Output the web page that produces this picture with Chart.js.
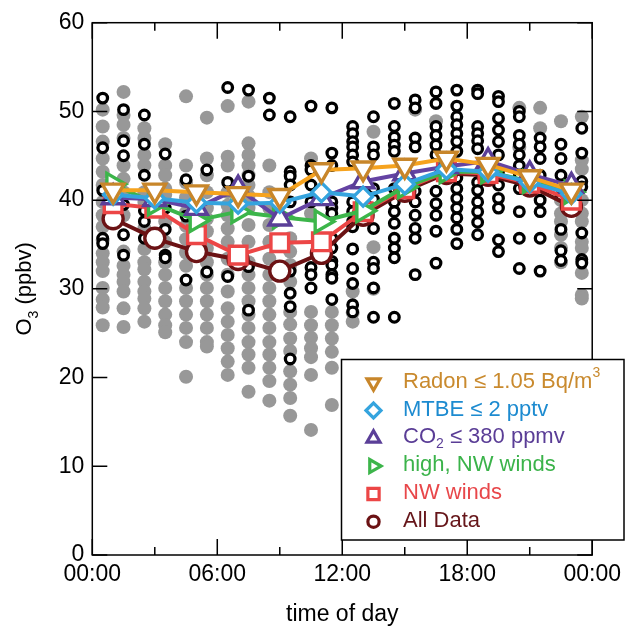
<!DOCTYPE html>
<html>
<head>
<meta charset="utf-8">
<script src="https://cdn.jsdelivr.net/npm/chart.js@4.4.1/dist/chart.umd.min.js"></script>
<style>
  html, body { margin: 0; padding: 0; background: #fff; }
  #chart { display: block; }
</style>
</head>
<body>
<canvas id="chart" width="627" height="627"></canvas>
<script>
// centres of the 2-hour bins used for the averaged curves
const binHours = [1, 3, 5, 7, 9, 11, 13, 15, 17, 19, 21, 23];

// mean O3 (ppbv) per bin, one array per filter
const radonO3  = [41.1, 41.1, 40.9, 40.7, 40.5, 43.4, 43.6, 43.9, 44.7, 44.0, 42.6, 41.1];
const mtbeO3   = [40.6, 40.2, 39.7, 39.6, 39.7, 40.9, 40.4, 41.8, 43.5, 43.2, 42.0, 40.7];
const co2O3    = [40.3, 40.1, 39.1, 41.3, 37.9, 40.2, 42.1, 43.0, 43.8, 44.4, 42.9, 41.6];
const highNwO3 = [41.8, 39.6, 37.7, 38.7, 38.1, 37.6, 38.8, 41.5, 43.2, 43.2, 42.1, 40.9];
const nwO3     = [39.6, 39.1, 36.1, 33.8, 35.2, 35.3, 38.7, 41.3, 43.2, 43.0, 41.9, 40.0];
const allO3    = [37.9, 35.7, 34.2, 33.3, 32.0, 34.0, 38.3, 41.0, 43.0, 42.8, 41.6, 39.3];

// hourly individual measurements
const scatterHours = [0.5, 1.5, 2.5, 3.5, 4.5, 5.5, 6.5, 7.5, 8.5, 9.5, 10.5, 11.5,
                      12.5, 13.5, 14.5, 15.5, 16.5, 17.5, 18.5, 19.5, 20.5, 21.5, 22.5, 23.5];

// gray filled points
const grayO3 = [
  [50.2, 48.3, 46.6, 44.7, 43.2, 41.7, 39.8, 38.3, 37.0, 35.5, 34.0, 33.0, 32.0, 30.1, 28.8, 27.9, 25.9],
  [52.2, 49.6, 48.5, 47.0, 43.9, 42.4, 40.9, 38.3, 34.2, 32.6, 31.6, 30.8, 29.7, 27.8, 25.7],
  [48.1, 47.0, 45.1, 43.9, 40.9, 39.8, 36.8, 34.5, 33.0, 32.2, 30.8, 29.7, 28.9, 27.8, 26.3],
  [46.3, 43.9, 42.8, 41.3, 40.6, 37.6, 35.3, 33.0, 31.6, 30.1, 28.6, 27.1, 25.9, 25.1],
  [51.7, 43.9, 42.0, 40.3, 38.6, 37.1, 35.6, 34.1, 32.6, 30.1, 28.6, 27.1, 25.6, 24.0, 20.1],
  [49.3, 44.7, 42.8, 40.9, 39.1, 37.9, 36.5, 34.6, 33.0, 31.6, 30.1, 28.6, 27.1, 25.6, 24.0, 23.5],
  [50.6, 44.9, 43.9, 40.9, 39.4, 38.3, 36.8, 35.3, 33.4, 31.6, 29.7, 27.8, 26.3, 24.8, 23.3, 21.8, 20.3],
  [51.1, 46.4, 45.1, 43.9, 42.8, 41.7, 40.5, 39.1, 37.2, 35.3, 33.0, 31.6, 30.1, 28.6, 27.1, 25.6, 24.0, 22.6, 21.1, 18.4],
  [43.9, 40.9, 39.1, 37.2, 35.3, 33.4, 31.6, 30.1, 28.6, 27.1, 25.6, 24.0, 22.6, 21.1, 19.6, 17.4],
  [35.7, 34.2, 32.7, 30.8, 27.4, 26.0, 24.4, 23.0, 20.7, 19.2, 17.7, 15.7],
  [44.7, 38.5, 27.4, 25.9, 24.5, 23.3, 22.3, 20.3, 14.1],
  [27.4, 25.9, 24.4, 22.9, 21.1, 16.9],
  [29.7, 27.3, 26.3],
  [47.7, 34.7, 30.0],
  [],
  [50.2],
  [48.9],
  [],
  [],
  [],
  [50.4, 46.0],
  [50.4, 48.1],
  [48.9, 40.0, 38.5, 37.6, 36.1, 34.6, 33.0],
  [49.4, 44.5, 43.5, 40.0, 38.5, 37.6, 35.3, 34.6, 31.8, 29.3, 28.9]
];

// black open circles
const blackO3 = [
  [51.5, 45.9, 41.1, 35.7, 35.1],
  [50.2, 46.7, 45.0, 39.5, 36.1, 33.8],
  [49.6, 46.3, 42.8, 38.8, 37.6, 35.7],
  [45.2, 39.1, 36.7, 33.8, 33.5],
  [42.3, 38.2, 31.0],
  [43.4, 31.9],
  [52.7, 42.0, 31.4],
  [52.4, 42.7, 32.5, 27.6],
  [51.5, 49.6],
  [49.4, 43.2, 42.7, 41.7, 39.8, 32.0, 29.5, 28.0, 22.1],
  [50.6, 43.9, 43.4, 41.7, 39.8, 32.4, 31.6, 30.1],
  [50.4, 45.3, 43.9, 39.8, 39.1, 38.5, 35.7, 34.6, 33.1, 32.7, 31.6, 31.2, 28.8],
  [48.3, 47.5, 46.6, 46.0, 45.1, 44.3, 39.8, 38.7, 37.6, 37.0, 34.5, 32.3, 30.6, 28.2, 27.4],
  [49.4, 46.0, 45.1, 41.3, 40.1, 36.8, 33.0, 32.3, 30.1, 26.8],
  [50.9, 48.3, 47.1, 46.2, 45.5, 41.3, 39.8, 38.7, 37.4, 35.7, 34.6, 33.5, 26.8],
  [51.3, 50.4, 47.0, 46.0, 41.0, 39.8, 38.3, 36.8, 35.7, 31.6],
  [52.2, 50.9, 48.3, 47.3, 46.2, 45.1, 41.0, 39.6, 38.3, 36.5, 32.9],
  [52.4, 50.6, 49.4, 48.5, 47.5, 46.6, 45.5, 42.5, 41.3, 40.2, 39.1, 38.0, 36.7, 35.1],
  [52.4, 52.0, 48.3, 47.5, 46.7, 45.8, 42.0, 41.1, 39.8, 38.7, 37.5, 36.1],
  [51.7, 51.1, 49.2, 47.9, 46.6, 45.1, 43.2, 41.7, 40.2, 39.1, 35.5, 34.2],
  [50.0, 49.4, 47.3, 46.3, 45.1, 43.9, 42.8, 41.3, 38.7, 35.7, 32.3],
  [47.0, 46.0, 44.7, 42.8, 40.0, 38.7, 35.7, 32.0],
  [46.3, 44.7, 42.8, 40.5, 36.7, 34.3, 33.2],
  [48.1, 45.3, 42.1, 41.5, 36.3, 33.3, 32.9]
];

// axis ticks
const xTickHours = [0, 6, 12, 18, 24];
const xTickLabels = ['00:00', '06:00', '12:00', '18:00', '00:00'];
const xMinorHours = [3, 9, 15, 21];
const yTickValues = [0, 10, 20, 30, 40, 50, 60];

const FONT = '"Liberation Sans", Arial, Helvetica, sans-serif';

function toPoints(xs, ys) {
  return ys.map((v, i) => ({ x: xs[i], y: v }));
}

function toScatter(cols) {
  const pts = [];
  cols.forEach((col, i) => col.forEach(v => pts.push({ x: scatterHours[i], y: v })));
  return pts;
}

function lineSet(label, values, lineColor, markColor, style, radius, rotation, order) {
  return {
    label: label,
    data: toPoints(binHours, values),
    borderColor: lineColor,
    borderWidth: 4,
    pointStyle: style,
    pointRadius: radius,
    pointRotation: rotation,
    pointBackgroundColor: '#fff',
    pointBorderColor: markColor,
    pointBorderWidth: 3.4,
    tension: 0,
    order: order
  };
}

// legend rows: text parts ([text, '' | 'sup' | 'sub']), colour, marker
const legendRows = [
  { parts: [['Radon \u2264 1.05 Bq/m', ''], ['3', 'sup']], color: '#c98a2e', style: 'triangle', rot: 180, mark: '#c8862a' },
  { parts: [['MTBE \u2264 2 pptv', '']], color: '#1d8bd0', style: 'diamond', rot: 0, mark: '#35a4de' },
  { parts: [['CO', ''], ['2', 'sub'], [' \u2264 380 ppmv', '']], color: '#5a3d96', style: 'triangle', rot: 0, mark: '#5b3f98' },
  { parts: [['high, NW winds', '']], color: '#3bb34a', style: 'triangle', rot: 90, mark: '#3cb54a' },
  { parts: [['NW winds', '']], color: '#e8474a', style: 'square', rot: 0, mark: '#ec4646' },
  { parts: [['All Data', '']], color: '#66161a', style: 'circle', rot: 0, mark: '#6b1214' }
];

function drawRich(ctx, parts, x, y, size) {
  parts.forEach(([t, mode]) => {
    const s = mode ? Math.round(size * 0.65) : size;
    ctx.font = s + 'px ' + FONT;
    const dy = mode === 'sub' ? size * 0.3 : (mode === 'sup' ? -size * 0.38 : 0);
    ctx.fillText(t, x, y + dy);
    x += ctx.measureText(t).width;
  });
  return x;
}

function richWidth(ctx, parts, size) {
  let w = 0;
  parts.forEach(([t, mode]) => {
    const s = mode ? Math.round(size * 0.65) : size;
    ctx.font = s + 'px ' + FONT;
    w += ctx.measureText(t).width;
  });
  return w;
}

function drawMarker(ctx, style, rot, x, y, r) {
  ctx.save();
  ctx.translate(x, y);
  ctx.rotate(rot * Math.PI / 180);
  ctx.beginPath();
  if (style === 'triangle') {
    for (let k = 0; k < 3; k++) {
      const a = k * 2 * Math.PI / 3;
      const px = Math.sin(a) * r, py = -Math.cos(a) * r;
      if (k === 0) ctx.moveTo(px, py); else ctx.lineTo(px, py);
    }
    ctx.closePath();
  } else if (style === 'diamond') {
    ctx.moveTo(-r, 0); ctx.lineTo(0, -r); ctx.lineTo(r, 0); ctx.lineTo(0, r); ctx.closePath();
  } else if (style === 'square') {
    const s = r * 0.75;
    ctx.rect(-s, -s, 2 * s, 2 * s);
  } else {
    ctx.arc(0, 0, r * 0.75, 0, Math.PI * 2);
  }
  ctx.fill();
  ctx.stroke();
  ctx.restore();
}

// frame with inward ticks on all four sides, then legend and axis titles
const decorPlugin = {
  id: 'decor',
  afterDatasetsDraw(chart) {
    const { ctx, chartArea: a, scales } = chart;
    const x = scales.x, y = scales.y;
    ctx.save();
    ctx.strokeStyle = '#000';
    ctx.lineWidth = 1.5;
    ctx.strokeRect(a.left, a.top, a.right - a.left, a.bottom - a.top);
    ctx.beginPath();
    xTickHours.forEach(h => {
      const px = x.getPixelForValue(h);
      ctx.moveTo(px, a.bottom); ctx.lineTo(px, a.bottom - 16);
      ctx.moveTo(px, a.top); ctx.lineTo(px, a.top + 16);
    });
    xMinorHours.forEach(h => {
      const px = x.getPixelForValue(h);
      ctx.moveTo(px, a.bottom); ctx.lineTo(px, a.bottom - 8);
      ctx.moveTo(px, a.top); ctx.lineTo(px, a.top + 8);
    });
    yTickValues.forEach(v => {
      const py = y.getPixelForValue(v);
      ctx.moveTo(a.left, py); ctx.lineTo(a.left + 15, py);
      ctx.moveTo(a.right, py); ctx.lineTo(a.right - 15, py);
    });
    ctx.stroke();
    ctx.restore();
  },
  afterDraw(chart) {
    const { ctx, chartArea: a } = chart;
    ctx.save();

    // legend box
    const bx = 341.5, by = 359.5, bw = 282.5, bh = 180.5;
    ctx.fillStyle = '#fff';
    ctx.fillRect(bx, by, bw, bh);
    ctx.strokeStyle = '#000';
    ctx.lineWidth = 1.5;
    ctx.strokeRect(bx, by, bw, bh);
    ctx.textBaseline = 'middle';
    ctx.textAlign = 'left';
    legendRows.forEach((row, i) => {
      const ry = 381.7 + i * 27.8;
      ctx.fillStyle = '#fff';
      ctx.strokeStyle = row.mark;
      ctx.lineWidth = 3.2;
      drawMarker(ctx, row.style, row.rot, 373.5, ry + 1, 7.5);
      ctx.fillStyle = row.color;
      drawRich(ctx, row.parts, 403, ry, 22);
    });

    // x title
    ctx.fillStyle = '#000';
    ctx.textBaseline = 'alphabetic';
    ctx.textAlign = 'left';
    ctx.font = '23px ' + FONT;
    const xt = 'time of day';
    ctx.fillText(xt, (a.left + a.right) / 2 - ctx.measureText(xt).width / 2, 621);

    // y title, rotated
    const yParts = [['O', ''], ['3', 'sub'], [' (ppbv)', '']];
    const w = richWidth(ctx, yParts, 22);
    ctx.translate(31, (a.top + a.bottom) / 2);
    ctx.rotate(-Math.PI / 2);
    ctx.textBaseline = 'alphabetic';
    drawRich(ctx, yParts, -w / 2, 0, 22);
    ctx.restore();
  }
};

const datasets = [
  lineSet('Radon', radonO3, '#f6a31e', '#c8862a', 'triangle', 12.5, 180, 0),
  lineSet('MTBE', mtbeO3, '#35a4de', '#35a4de', 'rectRot', 9.5, 0, 1),
  lineSet('CO2', co2O3, '#6443a3', '#5b3f98', 'triangle', 12.5, 0, 2),
  lineSet('high, NW winds', highNwO3, '#3cb54a', '#3cb54a', 'triangle', 12.5, 90, 3),
  lineSet('NW winds', nwO3, '#ec4646', '#ec4646', 'rect', 12.5, 0, 4),
  lineSet('All Data', allO3, '#6b1214', '#6b1214', 'circle', 10, 0, 5),
  {
    label: 'hourly',
    data: toScatter(blackO3),
    showLine: false,
    pointStyle: 'circle',
    pointRadius: 4.8,
    pointBackgroundColor: '#fff',
    pointBorderColor: '#000',
    pointBorderWidth: 3.3,
    order: 6
  },
  {
    label: 'hourly gray',
    data: toScatter(grayO3),
    showLine: false,
    pointStyle: 'circle',
    pointRadius: 7,
    pointBackgroundColor: '#989898',
    pointBorderWidth: 0,
    order: 7
  }
];

new Chart(document.getElementById('chart'), {
  type: 'line',
  data: { datasets: datasets },
  options: {
    responsive: false,
    animation: false,
    events: [],
    devicePixelRatio: 1,
    layout: { padding: { left: 0, top: 22.7, right: 33, bottom: 0 } },
    plugins: {
      legend: { display: false },
      tooltip: { enabled: false }
    },
    scales: {
      x: {
        type: 'linear',
        min: 0,
        max: 24,
        afterFit: s => { s.height = 72; },
        afterBuildTicks: s => { s.ticks = xTickHours.map(v => ({ value: v })); },
        grid: { display: false, drawTicks: false },
        border: { display: false },
        ticks: {
          padding: 6,
          maxRotation: 0,
          autoSkip: false,
          color: '#000',
          font: { family: FONT, size: 23 },
          callback: (v, i) => xTickLabels[i]
        }
      },
      y: {
        min: 0,
        max: 60,
        afterFit: s => { s.width = 92.3; },
        afterBuildTicks: s => { s.ticks = yTickValues.map(v => ({ value: v })); },
        grid: { display: false, drawTicks: false },
        border: { display: false },
        ticks: {
          padding: 8,
          color: '#000',
          font: { family: FONT, size: 23 },
          callback: v => String(v)
        }
      }
    }
  },
  plugins: [decorPlugin]
});
</script>
</body>
</html>
